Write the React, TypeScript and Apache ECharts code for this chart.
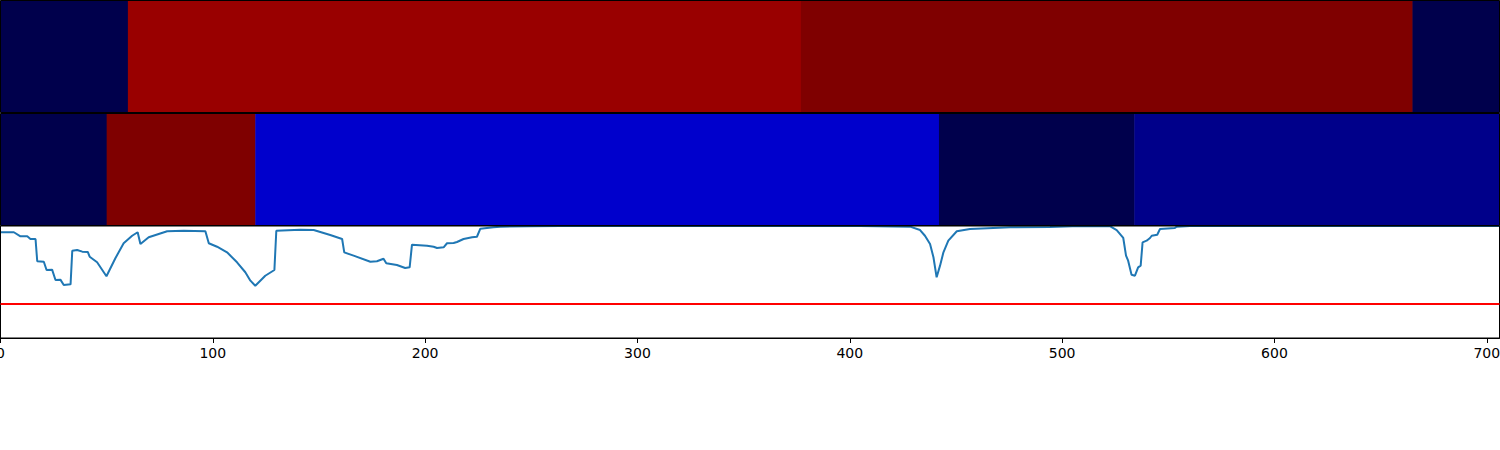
import React, { useEffect, useRef } from "react";
import * as echarts from "echarts";

// X axis
const xMin = 0;
const xMax = 706;
const xTickValues = [0, 100, 200, 300, 400, 500, 600, 700];

// Row 1 (top strip): segment edges and colours
const row1Edges = [0, 60, 377, 665, 706];
const row1Colors = ["#00004c", "#990000", "#7f0000", "#00004c"];

// Row 2 (middle strip)
const row2Edges = [0, 50, 120, 442, 534, 706];
const row2Colors = ["#00004c", "#7f0000", "#0000cc", "#00004c", "#00008a"];

// Bottom panel: signal and threshold
const lineX = [
  0, 6.3, 9.4, 12.6, 14.1, 16.5, 17.3, 20.4, 21.7, 24.3, 25.9, 28.2, 29.8, 33.0,
  33.8, 36.1, 38.5, 41.1, 42.0, 45.5, 49.9, 54.1, 58.0, 62.0, 64.6, 65.9, 69.8,
  78.5, 86.3, 96.5, 98.1, 102.0, 106.7, 111.4, 115.3, 117.7, 120.0, 124.7,
  129.0, 129.9, 141.2, 147.5, 155.3, 160.9, 161.9, 166.3, 174.2, 177.3, 180.4,
  181.7, 186.7, 190.6, 192.7, 193.8, 200.9, 204.0, 205.6, 208.7, 210.3, 213.4,
  215.0, 218.1, 222.1, 224.4, 226.0, 232.2, 235.4, 249.5, 263.6, 300, 350,
  404.8, 428.4, 433.1, 435.4, 437.8, 439.4, 440.9, 442.5, 444.1, 446.4, 450.4,
  456.6, 467.6, 475.5, 494.3, 508.4, 522.5, 525.7, 528.8, 530.1, 531.1, 532.7,
  534.3, 535.8, 537.0, 537.9, 539.8, 541.4, 542.2, 544.8, 546.1, 553.1, 553.9,
  560.2, 561.7, 600, 650, 706,
];
const lineY = [
  0.944, 0.944, 0.908, 0.908, 0.884, 0.884, 0.685, 0.681, 0.607, 0.61, 0.518,
  0.521, 0.473, 0.479, 0.779, 0.786, 0.771, 0.768, 0.726, 0.676, 0.551, 0.712,
  0.846, 0.913, 0.944, 0.839, 0.899, 0.953, 0.958, 0.953, 0.846, 0.815, 0.765,
  0.676, 0.587, 0.512, 0.467, 0.556, 0.607, 0.958, 0.967, 0.964, 0.92, 0.884,
  0.765, 0.735, 0.681, 0.685, 0.708, 0.667, 0.652, 0.625, 0.631, 0.833, 0.824,
  0.815, 0.804, 0.81, 0.846, 0.848, 0.857, 0.884, 0.899, 0.904, 0.976, 0.988,
  0.994, 0.998, 1.0, 1.0, 1.0, 1.0, 0.994, 0.964, 0.913, 0.839, 0.721, 0.542,
  0.646, 0.765, 0.869, 0.953, 0.973, 0.982, 0.988, 0.991, 1.0, 0.998, 0.964,
  0.893, 0.735, 0.69, 0.565, 0.556, 0.631, 0.646, 0.854, 0.869, 0.893, 0.913,
  0.922, 0.973, 0.982, 0.994, 1.0, 1.0, 1.0, 1.0, 1.0,
];
const threshold = 0.3125;

function segments(edges: number[], colors: string[]) {
  return colors.map((c, i) => ({ value: [edges[i], edges[i + 1]], itemStyle: { color: c } }));
}

function stripRender(params: any, api: any) {
  const x0 = api.value(0);
  const x1 = api.value(1);
  const p0 = api.coord([x0, 1]);
  const p1 = api.coord([x1, 0]);
  return {
    type: "rect",
    shape: { x: p0[0], y: p0[1], width: p1[0] - p0[0] + 0.5, height: p1[1] - p0[1] },
    style: { fill: api.visual("color") },
  };
}

export default function App() {
  const ref = useRef<HTMLDivElement>(null);
  useEffect(() => {
    if (!ref.current) return;
    const chart = echarts.init(ref.current, null, { renderer: "svg" });
    const gridBase = {
      left: 0.5,
      width: 1499,
      show: true,
      borderColor: "#000",
      borderWidth: 1,
      backgroundColor: "transparent",
      z: 5,
      containLabel: false,
      outerBoundsMode: "none",
    };
    const hiddenX = { type: "value", min: xMin, max: xMax, show: false };
    const hiddenY = { type: "value", min: 0, max: 1, show: false };
    chart.setOption({
      animation: false,
      grid: [
        { ...gridBase, top: 0.5, height: 112 },
        { ...gridBase, top: 113.5, height: 112 },
        { ...gridBase, top: 226, height: 112 },
      ],
      xAxis: [
        { ...hiddenX, gridIndex: 0 },
        { ...hiddenX, gridIndex: 1 },
        {
          type: "value",
          gridIndex: 2,
          min: xMin,
          max: xMax,
          axisLine: { show: true, lineStyle: { color: "#000", width: 1 } },
          axisTick: { show: true, length: 5, lineStyle: { color: "#000" }, customValues: xTickValues },
          axisLabel: {
            show: true,
            color: "#000",
            fontSize: 14,
            fontFamily: "DejaVu Sans",
            margin: 8,
            customValues: xTickValues,
          },
          splitLine: { show: false },
        },
      ],
      yAxis: [
        { ...hiddenY, gridIndex: 0 },
        { ...hiddenY, gridIndex: 1 },
        { ...hiddenY, gridIndex: 2 },
      ],
      series: [
        {
          type: "custom",
          xAxisIndex: 0,
          yAxisIndex: 0,
          renderItem: stripRender,
          data: segments(row1Edges, row1Colors),
          encode: { x: [0, 1] },
          silent: true,
        },
        {
          type: "custom",
          xAxisIndex: 1,
          yAxisIndex: 1,
          renderItem: stripRender,
          data: segments(row2Edges, row2Colors),
          encode: { x: [0, 1] },
          silent: true,
        },
        {
          type: "line",
          xAxisIndex: 2,
          yAxisIndex: 2,
          data: lineX.map((x, i) => [x, lineY[i]]),
          showSymbol: false,
          symbol: "none",
          clip: true,
          lineStyle: { color: "#1f77b4", width: 2 },
          silent: true,
          markLine: {
            silent: true,
            symbol: "none",
            label: { show: false },
            lineStyle: { color: "#ff0000", width: 2, type: "solid" },
            data: [{ yAxis: threshold }],
          },
        },
      ],
    });
    return () => chart.dispose();
  }, []);
  return (
    <div
      ref={ref}
      style={{ position: "fixed", left: 0, top: 0, width: 1500, height: 450, background: "#fff" }}
    />
  );
}
